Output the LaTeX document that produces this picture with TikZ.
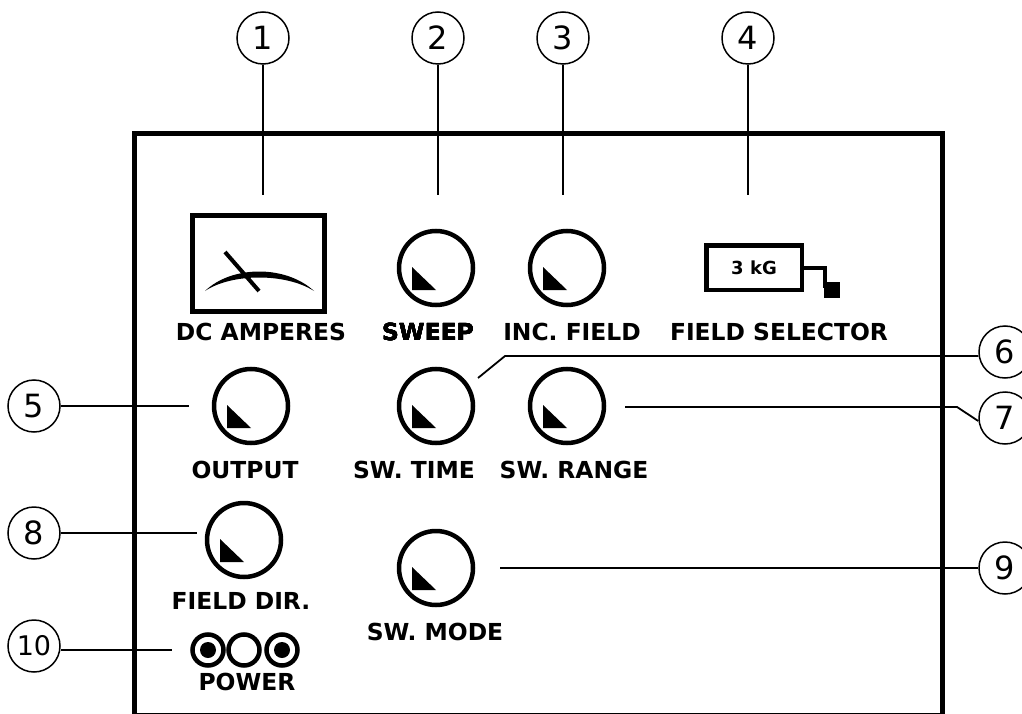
\documentclass[tikz,border=0pt]{standalone}
\usepackage{fontspec}
\setmainfont{DejaVu Sans}
\usepackage{tikz}
\usetikzlibrary{positioning,calc}

\tikzset{
  callout/.style={draw, circle, line width=1.5pt, minimum size=52pt, inner sep=0pt,
                  font=\fontsize{32}{32}\selectfont},
  leader/.style={line width=1.8pt},
  knob/.style={draw, circle, line width=4.5pt, minimum size=74pt, inner sep=0pt},
  panellabel/.style={font=\fontsize{23.4}{23.4}\selectfont\bfseries, inner sep=0pt},
  led/.style={draw, circle, line width=4.5pt, minimum size=31pt, inner sep=0pt}
}
\newcommand{\knobmark}[1]{\fill ($(#1)+(-24,-1)$) -- ($(#1)+(-24,22)$) -- ($(#1)+(0,22)$) -- cycle;}

\begin{document}
\begin{tikzpicture}[x=1pt,y=-1pt]
  \useasboundingbox (0,0) rectangle (1022,714);
  \clip (0,0) rectangle (1022,714);

  % leader ends
  \coordinate (end1) at (263,195);
  \coordinate (end2) at (438,195);
  \coordinate (end3) at (563,195);
  \coordinate (end4) at (748,195);
  \coordinate (end5) at (189,406);
  \coordinate (bend6) at (505,356);
  \coordinate (end6) at (478,378);
  \coordinate (bend7) at (957,407);
  \coordinate (end7) at (625,407);
  \coordinate (end8) at (197,533);
  \coordinate (end9) at (500,568);
  \coordinate (end10) at (172,650);

  % panel
  \draw[line width=5pt] (134,134) rectangle (942,715);

  % callouts
  \node[callout] (c1) at (263,38) {1};
  \node[callout] (c2) at (438,38) {2};
  \node[callout] (c3) at (563,38) {3};
  \node[callout] (c4) at (748,38) {4};
  \node[callout] (c5) at (34,406) {5};
  \node[callout] (c6) at (1005,352) {6};
  \node[callout] (c7) at (1005,418) {7};
  \node[callout] (c8) at (34,533) {8};
  \node[callout] (c9) at (1005,568) {9};
  \node[callout, font=\fontsize{27}{27}\selectfont] (c10) at (34,646) {10};

  \draw[leader] (c1) -- (end1);
  \draw[leader] (c2) -- (end2);
  \draw[leader] (c3) -- (end3);
  \draw[leader] (c4) -- (end4);
  \draw[leader] (c5) -- (end5);
  \draw[leader] (c6.west |- bend6) -- (bend6) -- (end6);
  \draw[leader] (c7.west) ++(0,3) -- (bend7) -- (end7);
  \draw[leader] (c8) -- (end8);
  \draw[leader] (c9) -- (end9);
  \draw[leader] (c10.east |- end10) -- (end10);

  % meter
  \node[draw, line width=4.5pt, minimum width=132pt, minimum height=96pt, inner sep=0pt] (meter) at (258.5,263.5) {};
  \fill (205,291) .. controls (232,265) and (286,265) .. (314,291)
        .. controls (286,273) and (232,273) .. cycle;
  \draw[line width=4pt] (225,252) -- (259,291);
  \node[panellabel] (lmeter) at (261,332) {DC AMPERES};

  % knobs
  \node[knob] (sweep) at (436,268) {};
  \node[knob] (incfield) at (567,268) {};
  \node[knob] (output) at (251,406) {};
  \node[knob] (swtime) at (436,406) {};
  \node[knob] (swrange) at (567,406) {};
  \node[knob] (fielddir) at (244,540) {};
  \node[knob] (swmode) at (436,568) {};
  \foreach \k in {sweep,incfield,output,swtime,swrange,fielddir,swmode}
    \knobmark{\k}
  \node[panellabel] (lsweep) at (428,332) {SWEEP};
  \node[panellabel] (lincfield) at (572,332) {INC. FIELD};
  \node[panellabel] (loutput) at (245,470) {OUTPUT};
  \node[panellabel] (lswtime) at (414,470) {SW. TIME};
  \node[panellabel] (lswrange) at (574,470) {SW. RANGE};
  \node[panellabel] (lfielddir) at (241,601) {FIELD DIR.};
  \node[panellabel] (lswmode) at (435,632) {SW. MODE};

  % field selector
  \node[draw, line width=4.5pt, minimum width=95.5pt, minimum height=44.5pt, inner sep=0pt,
        font=\fontsize{18}{18}\selectfont\bfseries] (selector) at (754,267.5) {3 kG};
  \node[fill=black, minimum size=16pt, inner sep=0pt] (handle) at (832,290) {};
  \draw[line width=3.5pt] (selector.east |- 0,268) -- (825,268) -- (825,288);
  \node[panellabel] (lselector) at (779,332) {FIELD SELECTOR};

  % power
  \node[led] (ledl) at (208,650) {};
  \node[led] (ledm) at (244,650) {};
  \node[led] (ledr) at (282,650) {};
  \fill (ledl) circle (8);
  \fill (ledr) circle (8);
  \node[panellabel] (lpower) at (247,682) {POWER};
\end{tikzpicture}
\end{document}
